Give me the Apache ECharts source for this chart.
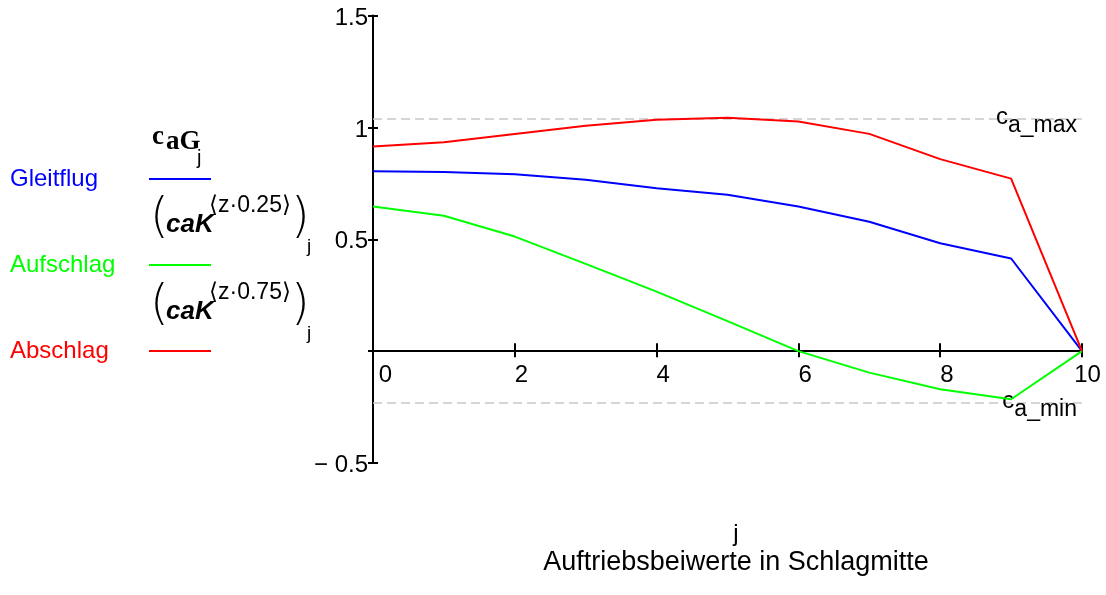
<!DOCTYPE html>
<html><head><meta charset="utf-8">
<script src="https://cdn.jsdelivr.net/npm/echarts@6/dist/echarts.min.js"></script>
<style>html,body{margin:0;padding:0;background:#fff}#c{width:1106px;height:595px}</style>
</head><body><div id="c"></div>
<script>
// ---- data ----
const jIndex = [0, 1, 2, 3, 4, 5, 6, 7, 8, 9, 10];
const gleitflug = [0.804, 0.801, 0.791, 0.766, 0.728, 0.699, 0.646, 0.578, 0.482, 0.414, 0.0];
const aufschlag = [0.646, 0.605, 0.512, 0.390, 0.266, 0.134, 0.0, -0.096, -0.170, -0.215, 0.0];
const abschlag = [0.915, 0.934, 0.970, 1.007, 1.034, 1.043, 1.026, 0.971, 0.858, 0.771, 0.0];
const caMax = 1.041;
const caMin = -0.233;
const seriesNames = ['Gleitflug', 'Aufschlag', 'Abschlag'];
const seriesColors = ['#0000ff', '#00ff00', '#ff0000'];
const xTitle = 'j';
const chartTitle = 'Auftriebsbeiwerte in Schlagmitte';

const FONT = '"Liberation Sans", Arial, sans-serif';
const pairs = arr => jIndex.map((x, i) => [x, arr[i]]);

const chart = echarts.init(document.getElementById('c'), null, {renderer: 'canvas'});

const axisLineStyle = {color: '#000', width: 2};
const baseX = {type: 'value', min: 0, max: 10, interval: 2, splitLine: {show: false}};
const baseY = {type: 'value', min: -0.5, max: 1.5, interval: 0.5, splitLine: {show: false}};

function parenGroup(sup, dy) {
  return [
    {type: 'text', x: 150, y: 220 + dy, style: {text: '(', font: '200 48px "DejaVu Sans", sans-serif', fill: '#000', verticalAlign: 'middle'}},
    {type: 'text', x: 166, y: 225 + dy, style: {text: 'caK', font: 'italic bold 26px ' + FONT, fill: '#000', verticalAlign: 'middle'}},
    {type: 'text', x: 209, y: 206 + dy, style: {text: sup, font: '23px ' + FONT, fill: '#000', verticalAlign: 'middle'}},
    {type: 'text', x: 291, y: 220 + dy, style: {text: ')', font: '200 48px "DejaVu Sans", sans-serif', fill: '#000', verticalAlign: 'middle'}},
    {type: 'text', x: 307, y: 247 + dy, style: {text: 'j', font: '19px ' + FONT, fill: '#000', verticalAlign: 'middle'}}
  ];
}

const option = {
  animation: false,
  backgroundColor: '#fff',
  textStyle: {fontFamily: FONT},
  grid: {left: 373, right: 24, top: 15.5, bottom: 132, containLabel: false, outerBoundsMode: 'none'},
  title: {
    text: xTitle, subtext: chartTitle, left: 731, top: 517, textAlign: 'center', itemGap: 3,
    textStyle: {fontFamily: FONT, fontSize: 24, fontWeight: 'normal', color: '#000'},
    subtextStyle: {fontFamily: FONT, fontSize: 27, color: '#000'}
  },
  legend: {
    orient: 'vertical', left: 10, top: 167, padding: 0, itemGap: 62, align: 'right',
    itemWidth: 62, itemHeight: 2, icon: 'rect', selectedMode: false,
    textStyle: {fontFamily: FONT, fontSize: 24, rich: {n: {width: 134, align: 'left', fontSize: 24, fontFamily: FONT}}},
    formatter: name => '{n|' + name + '}',
    data: seriesNames.map((n, i) => ({name: n, textStyle: {color: seriesColors[i]}}))
  },
  xAxis: [
    Object.assign({}, baseX, {
      position: 'bottom',
      axisLine: {show: true, onZero: true, onZeroAxisIndex: 0, lineStyle: axisLineStyle},
      axisTick: {show: true, inside: false, length: 6, lineStyle: axisLineStyle},
      axisLabel: {
        show: true, margin: -100, align: 'center', color: '#000', fontSize: 24, fontFamily: FONT,
        showMinLabel: true, showMaxLabel: true, hideOverlap: false,
        formatter: v => v === 0 ? '{a|0}' : (v === 10 ? '{b|10}' : '{n|' + v + '}'),
        rich: {
          a: {fontSize: 24, fontFamily: FONT, color: '#000', padding: [0, 0, 0, 25]},
          b: {fontSize: 24, fontFamily: FONT, color: '#000', padding: [0, 0, 0, 11]},
          n: {fontSize: 24, fontFamily: FONT, color: '#000', padding: [0, 0, 0, 13.3]}
        }
      }
    }),
    Object.assign({}, baseX, {
      position: 'bottom',
      axisLine: {show: false, onZero: true, onZeroAxisIndex: 0},
      axisTick: {show: true, inside: true, length: 8, lineStyle: axisLineStyle},
      axisLabel: {show: false}
    })
  ],
  yAxis: [
    Object.assign({}, baseY, {
      position: 'left',
      axisLine: {show: true, onZero: false, lineStyle: axisLineStyle},
      axisTick: {show: true, inside: false, length: 5, lineStyle: axisLineStyle},
      axisLabel: {
        show: true, margin: 5, color: '#000', fontSize: 24, fontFamily: FONT,
        showMinLabel: true, showMaxLabel: true,
        formatter: v => v === 0 ? '' : '{t|' + (v < 0 ? '\u2212 ' + Math.abs(v) : String(v)) + '}',
        rich: {t: {fontSize: 24, fontFamily: FONT, color: '#000', padding: [5, 0, 0, 0]}}
      }
    }),
    Object.assign({}, baseY, {
      position: 'left',
      axisLine: {show: false, onZero: false},
      axisTick: {show: true, inside: true, length: 5, lineStyle: axisLineStyle},
      axisLabel: {show: false}
    })
  ],
  series: [
    {
      name: seriesNames[0], type: 'line', xAxisIndex: 0, yAxisIndex: 0, data: pairs(gleitflug),
      color: seriesColors[0], symbol: 'none', lineStyle: {width: 2, color: seriesColors[0]}, z: 3,
      markLine: {
        silent: true, symbol: ['none', 'none'], z: 1,
        lineStyle: {type: [9, 5], color: '#c8c8c8', width: 1.5},
        label: {
          show: true, position: 'insideEnd', distance: 5, color: '#000',
          formatter: p => '{c|c}{s|' + p.name + '}',
          rich: {
            c: {fontSize: 24, fontFamily: FONT, color: '#000', padding: [6, 0, 9, 0]},
            s: {fontSize: 23, fontFamily: FONT, color: '#000', padding: [15, 0, 0, 0]}
          }
        },
        data: [{name: 'a_max', yAxis: caMax}, {name: 'a_min', yAxis: caMin}]
      }
    },
    {name: seriesNames[1], type: 'line', xAxisIndex: 0, yAxisIndex: 0, data: pairs(aufschlag),
     color: seriesColors[1], symbol: 'none', lineStyle: {width: 2, color: seriesColors[1]}, z: 3},
    {name: seriesNames[2], type: 'line', xAxisIndex: 0, yAxisIndex: 0, data: pairs(abschlag),
     color: seriesColors[2], symbol: 'none', lineStyle: {width: 2, color: seriesColors[2]}, z: 3}
  ],
  graphic: [
    {type: 'text', x: 152, y: 137, style: {text: 'c', font: 'bold 27px "Liberation Serif", serif', fill: '#000', verticalAlign: 'middle'}},
    {type: 'text', x: 166, y: 142, style: {text: 'aG', font: 'bold 27px "Liberation Serif", serif', fill: '#000', verticalAlign: 'middle'}},
    {type: 'text', x: 197, y: 158, style: {text: 'j', font: '20px ' + FONT, fill: '#000', verticalAlign: 'middle'}}
  ].concat(parenGroup('\u27E8z\u00B70.25\u27E9', 0), parenGroup('\u27E8z\u00B70.75\u27E9', 87))
};
chart.setOption(option);
</script>
</body></html>
